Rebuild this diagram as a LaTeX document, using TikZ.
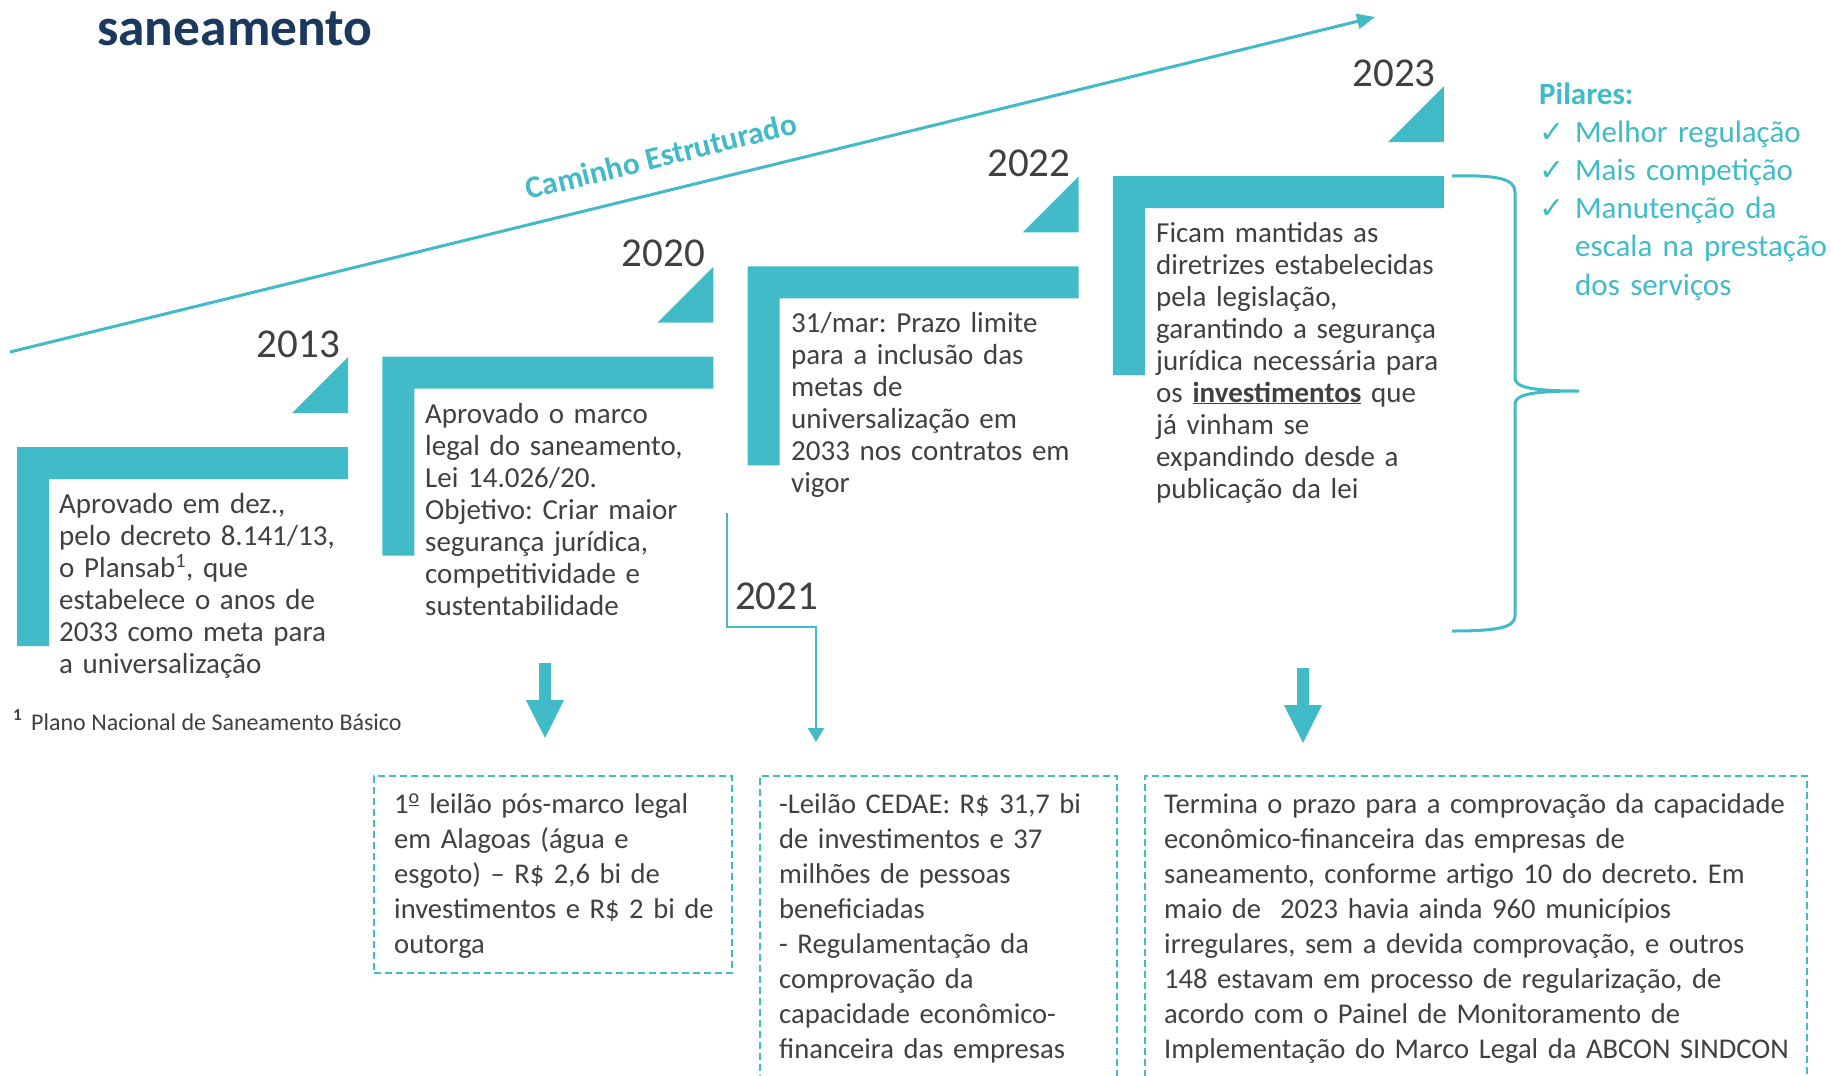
\documentclass[tikz,border=0pt]{standalone}
\usepackage{fontspec}
\setmainfont{Carlito}
\newfontfamily\symfont{DejaVu Sans}
\usetikzlibrary{arrows.meta}
\setlength{\lineskiplimit}{-100pt}
\frenchspacing
\definecolor{tealc}{RGB}{64,187,199}
\definecolor{navyc}{RGB}{27,57,94}
\definecolor{grayc}{RGB}{64,64,64}
\tikzset{
  yeartxt/.style={font=\fontsize{41}{49}\selectfont, text=grayc, anchor=base east, inner sep=0pt},
  stagetxt/.style={font=\fontsize{29}{32}\selectfont, text=grayc, anchor=base west, inner sep=0pt, align=left, text width=400pt},
  boxtxt/.style={font=\fontsize{28.6}{35}\selectfont, text=grayc, anchor=base west, inner sep=0pt, align=left, text width=400pt},
  dashbox/.style={draw=tealc, line width=2pt, dash pattern=on 7pt off 4pt, anchor=north west, inner sep=0pt},
  blockarrow/.style={draw=tealc, line width=12pt, -{Triangle[length=39pt,width=35pt]}},
  linkarrow/.style={draw=tealc, line width=2.3pt, -{Triangle[length=14pt,width=16pt]}},
}
\begin{document}
\begin{tikzpicture}[x=1pt, y=-1pt]
  \useasboundingbox (0,0) rectangle (1831,1076);
  % title
  \node[font=\fontsize{53.5}{60}\selectfont\bfseries, text=navyc, anchor=base west, inner sep=0pt] (title) at (97,45) {saneamento};
  % caminho estruturado
  \coordinate (cs) at (10,352);
  \coordinate (ce) at (1375,17);
  \draw[tealc, line width=3pt, -{Triangle[length=18pt,width=15pt]}] (cs) -- (ce);
  \node[font=\fontsize{31.5}{36}\selectfont\bfseries, text=tealc, rotate=13.8, inner sep=0pt] (cam) at (661,156) {Caminho Estruturado};
  % steps
  \foreach \i/\yr in {0/2013,1/2020,2/2022,3/2023}{
    \pgfmathsetmacro\lx{17+365.3*\i}
    \pgfmathsetmacro\ty{447-90.3*\i}
    \fill[tealc] (\lx,\ty) -- ++(331,0) -- ++(0,32) -- ++(-299,0) -- ++(0,167) -- ++(-32,0) -- cycle;
    \fill[tealc] (\lx+331,\ty-34) -- ++(0,-56) -- ++(-56,56) -- cycle;
    \node[yeartxt] (y\yr) at (\lx+323,\ty-90) {\yr};
  }
  \node[stagetxt] (t2013) at (59,513) {Aprovado em dez.,\\pelo decreto 8.141/13,\\o Plansab\textsuperscript{1}, que\\estabelece o anos de\\2033 como meta para\\a universalização};
  \node[stagetxt] (t2020) at (425,423) {Aprovado o marco\\legal do saneamento,\\Lei 14.026/20.\\Objetivo: Criar maior\\segurança jurídica,\\competitividade e\\sustentabilidade};
  \node[stagetxt] (t2022) at (791,332) {31/mar: Prazo limite\\para a inclusão das\\metas de\\universalização em\\2033 nos contratos em\\vigor};
  \node[stagetxt] (t2023) at (1156,242) {Ficam mantidas as\\diretrizes estabelecidas\\pela legislação,\\garantindo a segurança\\jurídica necessária para\\os \underline{\textbf{investimentos}} que\\já vinham se\\expandindo desde a\\publicação da lei};
  \node[font=\fontsize{24}{28}\selectfont, text=grayc, anchor=base west, inner sep=0pt] (nota) at (13,730) {\textsuperscript{\textbf{1}}\hspace{9pt}Plano Nacional de Saneamento Básico};
  % 2021
  \node[yeartxt, anchor=base west] (y2021) at (735,609) {2021};
  % pilares
  \draw[tealc, line width=3pt] (1452,176) .. controls (1495,175) and (1515,178) .. (1515,192) -- (1515,378)
    .. controls (1515,388) and (1535,391) .. (1579,391)
    .. controls (1535,391) and (1515,394) .. (1515,404) -- (1515,616)
    .. controls (1515,628) and (1495,631) .. (1452,631);
  \node[font=\fontsize{31}{36}\selectfont\bfseries, text=tealc, anchor=base west, inner sep=0pt] (pil) at (1539,104) {Pilares:};
  \node[font=\fontsize{31}{38.3}\selectfont, text=tealc, anchor=base west, inner sep=0pt, align=left, text width=300pt] (pitems) at (1575,142) {Melhor regulação\\Mais competição\\Manutenção da\\escala na prestação\\dos serviços};
  \foreach \k in {0,1,2}
    \node[font=\symfont\fontsize{30}{34}\selectfont, text=tealc, anchor=base west, inner sep=0pt] (ck\k) at (1539,142+38.3*\k) {✓};
  % boxes
  \node[dashbox, minimum width=358pt, minimum height=197pt] (box1) at (373,775) {};
  \node[dashbox, minimum width=357pt, minimum height=340pt] (box2) at (759,775) {};
  \node[dashbox, minimum width=662pt, minimum height=340pt] (box3) at (1144,775) {};
  \node[boxtxt] (b1txt) at (394,813) {1\textsuperscript{\underline{o}} leilão pós-marco legal\\em Alagoas (água e\\esgoto) – R\$ 2,6 bi de\\investimentos e R\$ 2 bi de\\outorga};
  \node[boxtxt] (b2txt) at (779,813) {-Leilão CEDAE: R\$ 31,7 bi\\de investimentos e 37\\milhões de pessoas\\beneficiadas\\- Regulamentação da\\comprovação da\\capacidade econômico-\\financeira das empresas};
  \node[boxtxt, text width=700pt] (b3txt) at (1164,813) {Termina o prazo para a comprovação da capacidade\\econômico-financeira das empresas de\\saneamento, conforme artigo 10 do decreto. Em\\maio de~ 2023 havia ainda 960 municípios\\irregulares, sem a devida comprovação, e outros\\148 estavam em processo de regularização, de\\acordo com o Painel de Monitoramento de\\Implementação do Marco Legal da ABCON SINDCON};
  % arrows
  \coordinate (a1) at (545,663);
  \coordinate (a3) at (1303,668);
  \coordinate (c2021) at (727,513);
  \draw[blockarrow, shorten >=36pt] (a1) -- (a1 |- box1.north);
  \draw[blockarrow, shorten >=31pt] (a3) -- (a3 |- box3.north);
  \draw[linkarrow, shorten >=33pt] (c2021) -- ++(0,114) -| ([xshift=57pt]box2.north west);
\end{tikzpicture}
\end{document}
